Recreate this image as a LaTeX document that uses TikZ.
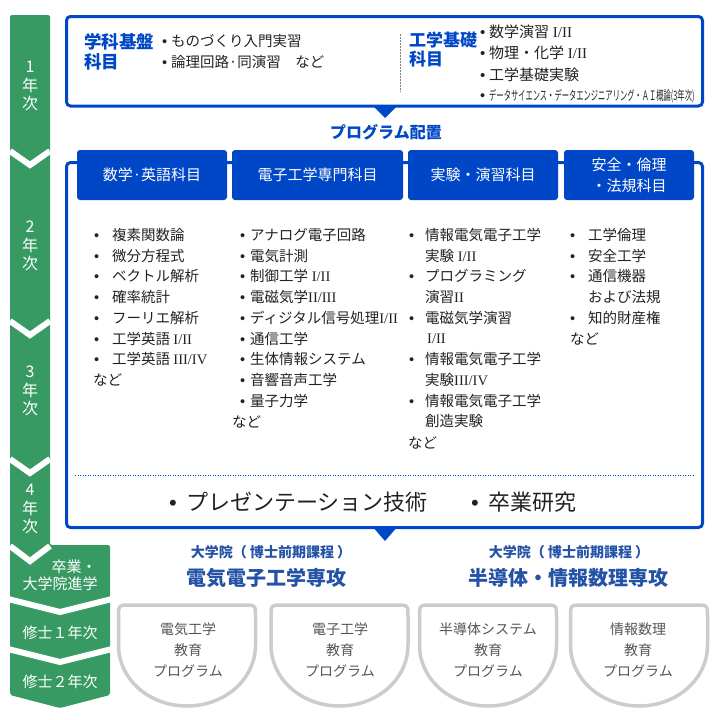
\documentclass[tikz,border=0pt]{standalone}
\usepackage{fontspec}
\usepackage{graphicx}
\setmainfont{Noto Sans CJK JP}
\newfontfamily\romanfont{Liberation Serif}
\newfontfamily\bulletfont{Liberation Sans}
\usepackage{tikz}

\definecolor{prgblue}{HTML}{0047C8}
\definecolor{gradblue}{HTML}{2452A6}
\definecolor{yeargreen}{HTML}{389A63}
\definecolor{shieldgray}{HTML}{CCCCCC}
\definecolor{textdark}{HTML}{222222}
\definecolor{shieldtext}{HTML}{555555}

\newcommand{\fsz}[2]{\fontsize{#1}{#2}\selectfont}
\newcommand{\rn}[1]{{\romanfont #1}}
\newcommand{\itm}[1]{\makebox[#1][l]{\bulletfont •}}

\begin{document}
\begin{tikzpicture}[x=1pt, y=-1pt,
    yearlbl/.style={text=white, font=\fsz{16}{18.5}, align=center, inner sep=0pt},
    steplbl/.style={text=white, font=\fsz{15}{15}, inner sep=0pt},
    tabbox/.style={fill=prgblue, rounded corners=3pt, text=white, font=\fsz{15}{21},
      align=center, inner sep=0pt, minimum height=50pt},
    headlbl/.style={text=prgblue, font=\bfseries\fsz{17.5}{20}, align=left, anchor=west, inner sep=0pt},
    item/.style={anchor=west, text=textdark, font=\fsz{14.5}{14.5}, inner sep=0pt},
    bigitem/.style={anchor=west, text=textdark, font=\fsz{22}{22}, inner sep=0pt},
    gradlbl/.style={text=gradblue, font=\bfseries\fsz{14}{14}, inner sep=0pt},
    majorlbl/.style={text=gradblue, font=\bfseries\fsz{20}{20}, inner sep=0pt},
    shieldline/.style={draw=shieldgray, line width=3.5pt},
    shieldlbl/.style={text=shieldtext, font=\fsz{14}{21}, align=center, inner sep=0pt},
    chevron/.style={draw=white, line width=6pt, miter limit=20}]
  \useasboundingbox (0,0) rectangle (720,720);

  % year column
  \fill[yeargreen, rounded corners=2pt] (10,15) -- (50,15) -- (50,545) -- (110,545)
    -- (110,695) -- (60,708) -- (10,695) -- cycle;
  \draw[chevron] (10,151) -- (30,165) -- (50,151);
  \draw[chevron] (10,321) -- (30,335) -- (50,321);
  \draw[chevron] (10,459) -- (30,473) -- (50,459);
  \draw[chevron] (10,546) -- (30,561) -- (50,546);
  \draw[chevron] (8,599) -- (60,612) -- (112,599);
  \draw[chevron] (8,649) -- (60,662) -- (112,649);
  \node[yearlbl] (yr1) at (30,86) {1\\年\\次};
  \node[yearlbl] (yr2) at (30,246) {2\\年\\次};
  \node[yearlbl] (yr3) at (30,391) {3\\年\\次};
  \node[yearlbl] (yr4) at (30,509) {4\\年\\次};
  \node[steplbl] (grad1) at (74,567) {卒業・};
  \node[steplbl] (grad2) at (60,584) {大学院進学};
  \node[steplbl] (mc1) at (60,633) {修士１年次};
  \node[steplbl] (mc2) at (60,682) {修士２年次};

  % first year
  \draw[prgblue, line width=3pt, rounded corners=4pt] (66.5,16.5) rectangle (702.5,106);
  \fill[prgblue] (372,105) -- (398,105) -- (385,118) -- cycle;
  \node[headlbl] (kiban) at (84,52) {学科基盤\\科目};
  \node[item, align=left, font=\fsz{14.5}{21}] (kibanlist) at (162,52)
    {\itm{9pt}ものづくり入門実習\\\itm{9pt}論理回路·同演習　など};
  \draw[gray, line width=0.6pt, dash pattern=on 1.5pt off 1.5pt] (400,34) -- (400,92);
  \node[headlbl, font=\bfseries\fsz{17}{19}] (kiso) at (409,49) {工学基礎\\科目};
  \node[item, font=\fsz{15}{15}] (kiso1) at (480,32) {\itm{9pt}数学演習\rn{ I/II}};
  \node[item, font=\fsz{15}{15}] (kiso2) at (480,53) {\itm{9pt}物理・化学\rn{ I/II}};
  \node[item, font=\fsz{15}{15}] (kiso3) at (480,75) {\itm{9pt}工学基礎実験};
  \node[item] (kiso4) at (480,96)
    {\itm{9pt}\scalebox{0.56}[1]{\fsz{13}{13}データサイエンス・データエンジニアリング・ＡＩ概論(3年次)}};
  \node[text=prgblue, font=\bfseries\fsz{16}{16}, inner sep=0pt] (haichi) at (386,132) {プログラム配置};

  % program box
  \draw[prgblue, line width=3pt, rounded corners=4pt] (66.5,162.5) rectangle (702.5,527.5);
  \fill[prgblue] (372,526) -- (398,526) -- (385,541) -- cycle;
  \node[tabbox, minimum width=150pt] (tabmath) at (152,175) {数学·英語科目};
  \node[tabbox, minimum width=171pt] (tabelec) at (317.5,175) {電子工学専門科目};
  \node[tabbox, minimum width=150pt] (tablab) at (483,175) {実験・演習科目};
  \node[tabbox, minimum width=130pt] (tabsafe) at (629,175) {安全・倫理\\・法規科目};

  \foreach \txt [count=\i] in {複素関数論, 微分方程式, ベクトル解析, 確率統計,
      フーリエ解析, 工学英語 \rn{I/II}, 工学英語 \rn{III/IV}}
    \node[item] (math\i) at (94,214.3+20.7*\i) {\itm{18pt}\txt};
  \node[item] (mathetc) at (93,380) {など};

  \foreach \txt [count=\i] in {アナログ電子回路, 電気計測, 制御工学\rn{ I/II}, 電磁気学\rn{II/III},
      ディジタル信号処理\rn{I/II}, 通信工学, 生体情報システム, 音響音声工学, 量子力学}
    \node[item] (elec\i) at (240,214.3+20.7*\i) {\itm{10pt}\txt};
  \node[item] (elecetc) at (232,422) {など};

  \foreach \txt [count=\i] in {{\itm{16pt}情報電気電子工学}, {\hspace*{16pt}実験\rn{ I/II}},
      {\itm{16pt}プログラミング}, {\hspace*{16pt}演習\rn{II}}, {\itm{16pt}電磁気学演習},
      {\hspace*{18pt}\rn{I/II}}, {\itm{16pt}情報電気電子工学}, {\hspace*{16pt}実験\rn{III/IV}},
      {\itm{16pt}情報電気電子工学}, {\hspace*{16pt}創造実験}}
    \node[item] (lab\i) at (409,214.3+20.7*\i) {\txt};
  \node[item] (labetc) at (408,443) {など};

  \foreach \txt [count=\i] in {{\itm{18pt}工学倫理}, {\itm{18pt}安全工学}, {\itm{18pt}通信機器},
      {\hspace*{18pt}および法規}, {\itm{18pt}知的財産権}}
    \node[item] (safe\i) at (570,214.3+20.7*\i) {\txt};
  \node[item] (safeetc) at (570,339) {など};

  % fourth year
  \draw[prgblue, line width=0.8pt, dash pattern=on 1pt off 1.5pt] (75,475) -- (694,475);
  \node[bigitem] (present) at (169,502) {\itm{17pt}プレゼンテーション技術};
  \node[bigitem] (thesis) at (471,502) {\itm{17pt}卒業研究};

  % graduate school
  \node[gradlbl] (gradL) at (271,552) {大学院（ 博士前期課程 ）};
  \node[majorlbl] (majorL) at (266,578) {電気電子工学専攻};
  \node[gradlbl] (gradR) at (569,552) {大学院（ 博士前期課程 ）};
  \node[majorlbl] (majorR) at (568,578) {半導体・情報数理専攻};

  \foreach \cx in {187,339.5,488,639}
    \draw[shieldline] (\cx-68.5,645) -- (\cx-68.5,617) .. controls (\cx-68.5,605) .. (\cx-56.5,605)
      -- (\cx+56.5,605) .. controls (\cx+68.5,605) .. (\cx+68.5,617) -- (\cx+68.5,645)
      .. controls (\cx+68.5,679) and (\cx+38,706) .. (\cx,706)
      .. controls (\cx-38,706) and (\cx-68.5,679) .. (\cx-68.5,645) -- cycle;
  \node[shieldlbl] (progee) at (188,650) {電気工学\\教育\\プログラム};
  \node[shieldlbl] (progec) at (340,650) {電子工学\\教育\\プログラム};
  \node[shieldlbl] (progsc) at (488,650) {半導体システム\\教育\\プログラム};
  \node[shieldlbl] (progim) at (638,650) {情報数理\\教育\\プログラム};
\end{tikzpicture}
\end{document}
